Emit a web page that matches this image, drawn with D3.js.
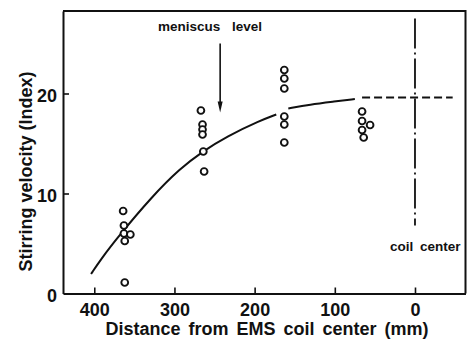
<!DOCTYPE html>
<html>
<head>
<meta charset="utf-8">
<script src="https://cdn.jsdelivr.net/npm/d3@7/dist/d3.min.js"></script>
<style>
  body { margin: 0; background: #fff; }
  text { font-family: "Liberation Sans", Arial, sans-serif; font-weight: bold; fill: #111; }
</style>
</head>
<body>
<svg id="chart" width="469" height="339"></svg>
<script>
// measured points (distance from coil center in mm, stirring velocity index)
const distance = [364, 363, 363, 355, 362, 362,
                  267, 265, 265, 265, 264, 263,
                  163, 163, 163, 163, 163, 163,
                  66, 66, 56, 66, 64];
const velocity = [8.25, 6.8, 6.0, 5.9, 5.25, 1.1,
                  18.3, 16.9, 16.4, 15.9, 14.2, 12.2,
                  22.35, 21.5, 20.5, 17.7, 16.9, 15.1,
                  18.2, 17.25, 16.85, 16.35, 15.6];

// hand drawn trend line (two solid pieces + dashed extension)
const curveA = [[404, 1.95], [392, 3.4], [370, 5.7], [328, 9.7], [293, 12.5],
                [265, 14.2], [235, 15.7], [193, 17.3], [173, 17.9]];
const curveB = [[158, 18.5], [131, 18.9], [100, 19.2], [75, 19.45]];
const curveDash = [[66, 19.6], [-47, 19.6]];

const xTicks = [400, 300, 200, 100, 0];
const yTicks = [0, 10, 20];

const width = 469, height = 339;
const margin = { top: 11, right: 3.5, bottom: 45.5, left: 63 };

const svg = d3.select('#chart');

const x = d3.scaleLinear()
  .domain([439, -63])
  .range([margin.left, width - margin.right]);

const y = d3.scaleLinear()
  .domain([0, 28.25])
  .range([height - margin.bottom, margin.top]);

const ink = '#111';

// frame
svg.append('path')
  .attr('d', `M${margin.left},${margin.top}H${width - margin.right}V${height - margin.bottom}`)
  .attr('fill', 'none')
  .attr('stroke', ink)
  .attr('stroke-width', 2);

const xAxis = svg.append('g')
  .attr('transform', `translate(0,${height - margin.bottom})`)
  .call(d3.axisBottom(x).tickValues(xTicks).tickSizeInner(-6).tickSizeOuter(0).tickPadding(6));

const yAxis = svg.append('g')
  .attr('transform', `translate(${margin.left},0)`)
  .call(d3.axisLeft(y).tickValues(yTicks).tickSizeInner(-6).tickSizeOuter(0).tickPadding(6));

for (const g of [xAxis, yAxis]) {
  g.select('.domain').attr('stroke', ink).attr('stroke-width', 2);
  g.selectAll('.tick line').attr('stroke', ink).attr('stroke-width', 1.6);
  g.selectAll('.tick text')
    .attr('font-family', '"Liberation Sans", Arial, sans-serif')
    .attr('font-weight', 'bold')
    .attr('font-size', 18)
    .attr('fill', ink);
}
yAxis.selectAll('.tick line').filter(d => d === 0).remove();
xAxis.selectAll('.tick text').attr('dy', '0.9em');
yAxis.selectAll('.tick text').attr('dy', '0.45em');

// axis titles
svg.append('text')
  .attr('x', 267)
  .attr('y', 335)
  .attr('text-anchor', 'middle')
  .attr('font-size', 18)
  .attr('word-spacing', 3)
  .text('Distance from EMS coil center (mm)');

svg.append('text')
  .attr('transform', 'translate(32,171.5) rotate(-90)')
  .attr('text-anchor', 'middle')
  .attr('font-size', 18)
  .text('Stirring velocity (Index)');

// trend line
const line = d3.line()
  .x(d => x(d[0]))
  .y(d => y(d[1]))
  .curve(d3.curveBasis);

for (const seg of [curveA, curveB]) {
  svg.append('path')
    .datum(seg)
    .attr('d', line)
    .attr('fill', 'none')
    .attr('stroke', ink)
    .attr('stroke-width', 2);
}

svg.append('path')
  .datum(curveDash)
  .attr('d', line)
  .attr('fill', 'none')
  .attr('stroke', ink)
  .attr('stroke-width', 2)
  .attr('stroke-dasharray', '8,4');

// coil center marker (dash-dot)
svg.append('line')
  .attr('x1', x(0)).attr('x2', x(0))
  .attr('y1', y(27.5)).attr('y2', y(6.8))
  .attr('stroke', ink)
  .attr('stroke-width', 1.8)
  .attr('stroke-dasharray', '30,4,2,4');

svg.append('text')
  .attr('x', 390)
  .attr('y', 251)
  .attr('font-size', 13.5)
  .attr('word-spacing', 3)
  .text('coil center');

// meniscus level annotation
svg.append('text')
  .attr('x', 158)
  .attr('y', 31)
  .attr('font-size', 13.5)
  .attr('word-spacing', 8)
  .text('meniscus level');

svg.append('line')
  .attr('x1', x(243)).attr('x2', x(243))
  .attr('y1', y(25)).attr('y2', y(18.8))
  .attr('stroke', ink)
  .attr('stroke-width', 1.6);

svg.append('path')
  .attr('d', `M${x(243) - 2.5},${y(19.2)}L${x(243) + 2.5},${y(19.2)}L${x(243)},${y(18.1)}Z`)
  .attr('fill', ink);

// data points
svg.append('g')
  .selectAll('circle')
  .data(distance.map((d, i) => [d, velocity[i]]))
  .join('circle')
  .attr('cx', d => x(d[0]))
  .attr('cy', d => y(d[1]))
  .attr('r', 3.4)
  .attr('fill', '#fff')
  .attr('stroke', ink)
  .attr('stroke-width', 1.9);
</script>
</body>
</html>
